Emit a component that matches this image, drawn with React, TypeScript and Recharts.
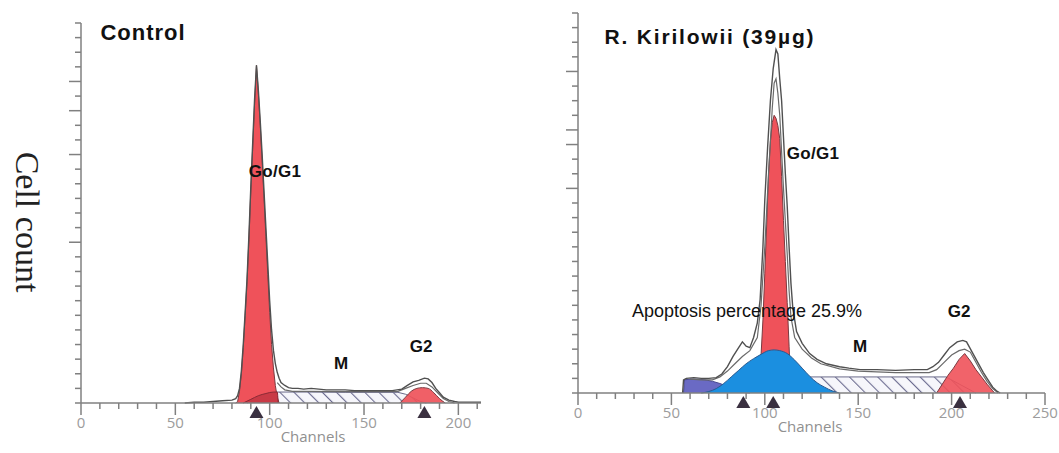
import React from 'react';
import { ComposedChart, Area, Line, Scatter, XAxis, YAxis } from 'recharts';

// [channel, count] pairs
const controlEnvelope = [
  [55, 0], [60, 0.5], [65, 0.5], [70, 1], [75, 1.5], [80, 2], [82, 3], [83, 5], [84, 10], [85, 22],
  [86, 40], [87, 62], [88, 85], [89, 115], [90, 148], [91, 178], [92, 208], [93, 231], [94, 214],
  [95, 193], [96, 170], [97, 145], [98, 120], [99, 95], [100, 70], [101, 50], [102, 36], [103, 27],
  [104, 21], [105, 17], [106, 14], [108, 12], [110, 10.5], [112, 10], [115, 10], [118, 9.5], [122, 10],
  [126, 9.5], [130, 9], [135, 9], [140, 9], [145, 8.5], [150, 8.5], [160, 8.5], [165, 8.5], [170, 9.5],
  [173, 12], [176, 14.5], [179, 15.5], [182, 17], [184, 16.5], [186, 14], [188, 10], [190, 7], [192, 4],
  [195, 2], [198, 1], [200, 0.5], [212, 0.5],
];
const controlFit = [
  [104, 14], [106, 11], [108, 9], [112, 8], [120, 8], [140, 7.8], [160, 7.8], [168, 8], [172, 10],
  [176, 12], [180, 13.5], [183, 13.5], [186, 11], [189, 7], [192, 3], [195, 1], [198, 0],
];
const controlG1 = [
  [82, 0], [83, 1], [84, 8], [85, 20], [86, 38], [87, 60], [88, 83], [89, 112], [90, 145], [91, 175],
  [92, 205], [93, 231], [94, 212], [95, 190], [96, 166], [97, 140], [98, 114], [99, 88], [100, 62],
  [101, 40], [102, 24], [103, 12], [104, 4], [105, 0],
];
const controlSRise = [[86, 0], [90, 2.5], [94, 5], [98, 6.5], [102, 7.5], [104, 7.5], [104.5, 0]];
const controlS = [
  [88, 0], [92, 3], [96, 5.5], [100, 7], [104, 7.5], [120, 7.5], [140, 7.3], [168, 7.3], [172, 6],
  [176, 3.5], [180, 1], [183, 0],
];
const controlG2 = [[169, 0], [172, 4], [175, 8], [178, 10], [181, 10.5], [184, 10], [187, 7], [190, 3], [193, 0]];
const controlMarkers = [93, 182];

const kirEnvelope = [
  [56, 0], [56.5, 9], [58, 10], [62, 10.5], [66, 10], [70, 10], [74, 10.5], [77, 13], [80, 18], [83, 25],
  [86, 31], [88, 35], [90, 32], [92, 31], [94, 38], [96, 48], [97.5, 64], [99, 100], [100, 132],
  [101.5, 168], [103, 200], [104.5, 222], [106, 235], [107, 232], [108, 215], [109, 200], [110, 175],
  [111, 150], [112, 128], [113, 100], [114, 75], [115, 58], [117, 42], [120, 34], [124, 27], [128, 23],
  [133, 20], [140, 18], [145, 17], [151, 16], [160, 16], [170, 15.5], [180, 16], [187, 16], [190, 18],
  [193, 21], [196, 26], [199, 31], [203, 35], [206, 36], [208, 35], [211, 28], [214, 21], [217, 14],
  [220, 8], [222, 4], [224, 1.5], [226, 0],
];
const kirFit = [
  [60, 9.5], [66, 9], [72, 9], [76, 11], [80, 15], [84, 20], [88, 25], [92, 29], [96, 38], [98, 60],
  [100, 100], [102, 150], [104, 195], [105, 212], [106, 215], [107, 205], [108, 190], [110, 140],
  [112, 95], [113, 70], [114, 52], [116, 38], [120, 30], [125, 24], [130, 20], [140, 16.5], [150, 15],
  [170, 14], [188, 14], [192, 16], [196, 21], [200, 26], [204, 29], [207, 30], [210, 28], [213, 21],
  [216, 14], [219, 8], [222, 3], [225, 0],
];
const kirG1 = [
  [97, 0], [98, 26], [99, 50], [100, 82], [101, 115], [102, 150], [103, 172], [104, 185], [105, 190],
  [106, 188], [107, 183], [108, 174], [109, 148], [110, 118], [111, 90], [112, 62], [113, 32], [114, 0],
];
const kirApoptosis = [[56.5, 0], [57, 9], [60, 9.5], [64, 9.5], [68, 9], [72, 8], [76, 6.5], [80, 4.5], [84, 2.5], [88, 0.5], [92, 0]];
const kirBlue = [
  [66, 0], [70, 1], [74, 3], [78, 6.5], [82, 11], [86, 15.5], [90, 20], [94, 23.5], [98, 26.5],
  [102, 29], [105, 29.5], [108, 29], [112, 27], [116, 22.5], [120, 17], [124, 11.5], [128, 7],
  [132, 4], [136, 1.5], [140, 0],
];
const kirS = [[100, 0], [104, 11], [197, 11], [205, 5.5], [213, 0]];
const kirG2 = [[192, 0], [195, 6], [198, 12], [201, 17], [204, 23], [207, 27], [210, 22], [213, 16], [216, 11], [219, 6], [222, 1.5], [223, 0]];
const kirMarkers = [88.5, 104.5, 204.5];

const controlTicks = [0, 10, 20, 30, 40, 50, 60, 70, 80, 90, 100, 110, 120, 130, 140, 150, 160, 170, 180, 190, 200, 210];
const kirTicks = [...controlTicks, 220, 230, 240, 250];
const countTicks = [0, 10, 20, 30, 40, 50, 60, 70, 80, 90, 100, 110, 120, 130, 140, 150, 160, 170, 180, 190, 200, 210, 220, 230, 240, 250, 260];

const RED = '#ef525a';
const BLUE = '#1b8fe0';
const PURPLE = '#6a6ac4';
const AXIS = '#808080';
const LINE = '#505050';

const toPts = (rows: number[][]) => rows.map(([ch, v]) => ({ ch, v }));
const markerPts = (chs: number[]) => chs.map((ch) => ({ ch, v: 0 }));

const ChannelTick = (props: any) => {
  const { x, y, payload } = props;
  const major = payload.value % 50 === 0;
  return (
    <g>
      <line x1={x} y1={y} x2={x} y2={y + (major ? 12 : 6)} stroke={AXIS} strokeWidth={1.5} />
      {major && (
        <text x={x} y={y + 25} textAnchor="middle" fill="#9c9c9c" fontSize={15} fontFamily="'Open Sans', sans-serif">
          {payload.value}
        </text>
      )}
    </g>
  );
};

const makeCountTick = (longOnes: number[]) => (props: any) => {
  const { x, y, payload } = props;
  const len = longOnes.includes(payload.value) ? 12 : 6;
  return <line x1={x - len} y1={y} x2={x} y2={y} stroke={AXIS} strokeWidth={1.5} />;
};

const Triangle = (props: any) => {
  const { cx, cy } = props;
  return <polygon points={`${cx},${cy + 3} ${cx - 7},${cy + 15} ${cx + 7},${cy + 15}`} fill="#3a3040" />;
};

const label = (text: string, x: number, y: number, size: number, bold = true, spacing = 0): React.ReactNode => (
  <div
    style={{
      position: 'absolute',
      left: x,
      top: y,
      transform: 'translate(-50%, -50%)',
      fontSize: size,
      fontWeight: bold ? 700 : 400,
      letterSpacing: spacing,
      whiteSpace: 'nowrap',
      lineHeight: 1,
      color: '#111',
    }}
  >
    {text}
  </div>
);

const Panel = (p: {
  width: number;
  margin: any;
  maxCh: number;
  ticks: number[];
  longTicks: number[];
  children: React.ReactNode;
}) => (
  <ComposedChart width={p.width} height={453} margin={p.margin}>
    <XAxis
      type="number"
      dataKey="ch"
      domain={[0, p.maxCh]}
      ticks={p.ticks}
      interval={0}
      height={30}
      tickSize={0}
      tickMargin={0}
      tickLine={false}
      tick={<ChannelTick />}
      axisLine={{ stroke: AXIS, strokeWidth: 1.5 }}
      allowDecimals
    />
    <YAxis
      type="number"
      dataKey="v"
      domain={[0, 260]}
      ticks={countTicks}
      interval={0}
      width={10}
      tickSize={0}
      tickMargin={0}
      tickLine={false}
      tick={makeCountTick(p.longTicks)}
      axisLine={{ stroke: AXIS, strokeWidth: 1.5 }}
    />
    {p.children}
  </ComposedChart>
);

const common = { dataKey: 'v', isAnimationActive: false, dot: false, activeDot: false } as const;

export default function App() {
  return (
    <div style={{ position: 'relative', width: 1059, height: 453, background: '#fff', fontFamily: "'Liberation Sans', Arial, sans-serif", overflow: 'hidden' }}>
      <style>{'body{margin:0}'}</style>
      <svg width={0} height={0} style={{ position: 'absolute' }}>
        <defs>
          <pattern id="hatch" width={10} height={10} patternUnits="userSpaceOnUse" patternTransform="rotate(-45)">
            <rect width={10} height={10} fill="#f6f6fb" />
            <line x1={0} y1={0} x2={0} y2={10} stroke="#6c6c90" strokeWidth={2.2} />
          </pattern>
        </defs>
      </svg>

      <div style={{ position: 'absolute', left: 0, top: 0 }}>
        <Panel width={500} margin={{ top: 23, right: 19, bottom: 20, left: 71 }} maxCh={212} ticks={controlTicks} longTicks={[110, 170, 200, 220]}>
          <Area {...common} data={toPts(controlS)} type="linear" fill="url(#hatch)" fillOpacity={1} stroke="#6a6a8a" strokeWidth={1} />
          <Area {...common} data={toPts(controlG1)} type="linear" fill={RED} fillOpacity={1} stroke="#7a3a40" strokeWidth={1} />
          <Area {...common} data={toPts(controlSRise)} type="monotone" fill="#c93a46" fillOpacity={1} stroke="#8a2a35" strokeWidth={1} />
          <Area {...common} data={toPts(controlG2)} type="monotone" fill={RED} fillOpacity={0.92} stroke="#7a3a40" strokeWidth={1} />
          <Line {...common} data={toPts(controlFit)} type="linear" stroke="#6a6a6a" strokeWidth={1.2} />
          <Line {...common} data={toPts(controlEnvelope)} type="linear" stroke={LINE} strokeWidth={1.4} />
          <Scatter data={markerPts(controlMarkers)} dataKey="v" isAnimationActive={false} shape={<Triangle />} />
        </Panel>
      </div>

      <div style={{ position: 'absolute', left: 500, top: 0 }}>
        <Panel width={559} margin={{ top: 13, right: 14, bottom: 30, left: 68 }} maxCh={250} ticks={kirTicks} longTicks={[140, 170, 180, 220]}>
          <Area {...common} data={toPts(kirS)} type="linear" fill="url(#hatch)" fillOpacity={1} stroke="#6a6a8a" strokeWidth={1} />
          <Area {...common} data={toPts(kirG1)} type="linear" fill={RED} fillOpacity={1} stroke="#7a3a40" strokeWidth={1} />
          <Area {...common} data={toPts(kirApoptosis)} type="linear" fill={PURPLE} fillOpacity={1} stroke="#4a4a90" strokeWidth={1} />
          <Area {...common} data={toPts(kirBlue)} type="monotone" fill={BLUE} fillOpacity={1} stroke="#2a5a90" strokeWidth={1} />
          <Area {...common} data={toPts(kirG2)} type="linear" fill={RED} fillOpacity={0.9} stroke="#7a3a40" strokeWidth={1} />
          <Line {...common} data={toPts(kirFit)} type="linear" stroke="#6a6a6a" strokeWidth={1.2} />
          <Line {...common} data={toPts(kirEnvelope)} type="linear" stroke={LINE} strokeWidth={1.4} />
          <Scatter data={markerPts(kirMarkers)} dataKey="v" isAnimationActive={false} shape={<Triangle />} />
        </Panel>
      </div>

      {label('Control', 143, 33, 22, true, 1)}
      {label('R. Kirilowii (39µg)', 710, 36, 21, true, 1.8)}
      {label('Go/G1', 275, 171, 17, true, 0.3)}
      {label('M', 341, 363, 17)}
      {label('G2', 421, 346, 17)}
      {label('Go/G1', 813, 153, 17, true, 0.3)}
      {label('Apoptosis percentage 25.9%', 747, 311, 18, false)}
      {label('M', 860, 346, 17)}
      {label('G2', 959, 311, 17)}

      <div style={{ position: 'absolute', left: 313, top: 436, transform: 'translate(-50%, -50%)', fontSize: 15, color: '#909090', fontFamily: "'Open Sans', sans-serif", lineHeight: 1 }}>Channels</div>
      <div style={{ position: 'absolute', left: 810, top: 426, transform: 'translate(-50%, -50%)', fontSize: 15, color: '#909090', fontFamily: "'Open Sans', sans-serif", lineHeight: 1 }}>Channels</div>

      <div
        style={{
          position: 'absolute',
          left: 27,
          top: 222,
          transform: 'translate(-50%, -50%) rotate(90deg)',
          fontFamily: "'Liberation Serif', 'Times New Roman', serif",
          fontSize: 34,
          whiteSpace: 'nowrap',
          lineHeight: 1,
          color: '#222',
        }}
      >
        Cell count
      </div>
    </div>
  );
}
